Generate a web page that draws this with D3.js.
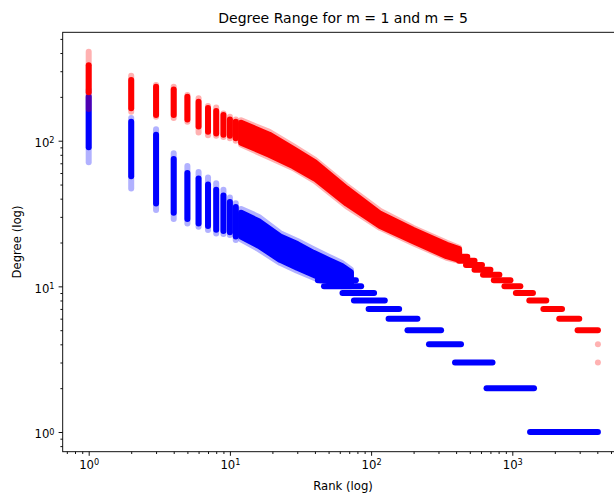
<!DOCTYPE html>
<html><head><meta charset="utf-8">
<script src="https://cdn.jsdelivr.net/npm/d3@7"></script>
<style>
body{margin:0;background:#fff}
svg{display:block}
text{font-family:"DejaVu Sans",sans-serif;fill:#000}
</style>
</head><body>
<svg id="chart" width="614" height="496"></svg>
<script>
// ---------- text ----------
const chartTitle = "Degree Range for m = 1 and m = 5";
const xLabel = "Rank (log)";
const yLabel = "Degree (log)";
const xTickExponents = [0, 1, 2, 3];
const yTickExponents = [0, 1, 2];

// ---------- data ----------
// discrete rank columns: [rank, lowest, denseLow, denseHigh, highest]
const blueColumns = [
  [1, 71, 90, 200, 223],
  [2, 47, 57, 135, 143],
  [3, 33.5, 37, 110, 120],
  [4, 29, 32, 75, 82],
  [5, 27, 29, 60, 67],
  [6, 25.7, 27, 55, 61],
  [7, 24.4, 26, 50, 56],
  [8, 23.1, 24.5, 46, 51],
  [9, 22.9, 24, 42, 46],
  [10, 22.5, 23.5, 38, 40.7],
  [11, 20.8, 22, 35, 37.2]
];
const redColumns = [
  [1, 165, 215, 330, 408],
  [2, 158, 167, 261, 279],
  [3, 146, 150, 235, 241],
  [4, 143, 150, 225, 235],
  [5, 135, 140, 200, 206],
  [6, 114, 125, 185, 196],
  [7, 109, 115, 168, 173],
  [8, 108, 112, 160, 169],
  [9, 106, 110, 150, 154],
  [10, 104, 108, 140, 146],
  [11, 100, 104, 135, 140]
];
// continuous bands: [rank, lowest, denseLow, denseHigh, highest]
const blueBand = [
  [12, 21, 22, 32, 34],
  [16, 18, 19, 28, 30],
  [22.7, 14.5, 15.2, 22, 23.2],
  [30, 12.8, 13.4, 19.5, 20.5],
  [39, 11.5, 12, 17, 18],
  [50, 10.4, 10.8, 15.2, 16],
  [62, 10, 10.2, 13.8, 14.5],
  [72, 10, 10.2, 12.5, 13]
];
const redBand = [
  [12, 94, 97, 133, 138],
  [19, 77, 80, 110, 115],
  [28, 65, 67, 88, 92],
  [40, 53, 55, 71, 74],
  [67, 35.5, 37, 47, 49],
  [116, 25.2, 26, 31.5, 33],
  [199, 19.8, 20.4, 24.4, 25.2],
  [343, 15.7, 16.1, 19.3, 19.9],
  [420, 15, 15.2, 18, 18.4]
];
// integer-degree streaks: [degree, firstRank, lastRank]
const blueSteps = [
  [11, 42, 78],
  [10, 46.4, 85],
  [9, 62.7, 105],
  [8, 75.6, 125],
  [7, 96, 158],
  [6, 133, 213],
  [5, 181, 313],
  [4, 257, 433],
  [3, 393, 724],
  [2, 657, 1425],
  [1, 1336, 4039]
];
const redSteps = [
  [18, 300, 360],
  [17, 330, 420],
  [16, 370, 480],
  [15, 420, 540],
  [14, 470, 610],
  [13, 540, 700],
  [12, 620, 810],
  [11, 740, 970],
  [10, 880, 1140],
  [9, 1060, 1400],
  [8, 1320, 1740],
  [7, 1660, 2250],
  [6, 2150, 2980],
  [5, 2900, 4039]
];
const redOutliers = [[4039, 4], [4039, 3]];

// ---------- layout ----------
const plotLeft = 62.7, plotRight = 623.4, plotTop = 32.3, plotBottom = 451.7;
const dotSize = 6;
const paleOpacity = 0.3;
const blue = "#0000ff", red = "#ff0000";

const svg = d3.select("#chart");
const x = d3.scaleLog().domain([Math.pow(10, -0.1841), Math.pow(10, 3.7868)]).range([plotLeft, plotRight]);
const y = d3.scaleLog().domain([Math.pow(10, -0.1352), Math.pow(10, 2.7443)]).range([plotBottom, plotTop]);

svg.append("defs").append("clipPath").attr("id", "clip")
  .append("rect").attr("x", plotLeft).attr("y", plotTop)
  .attr("width", plotRight - plotLeft).attr("height", plotBottom - plotTop);

const plot = svg.append("g").attr("clip-path", "url(#clip)");

function drawSeries(color, columns, band, steps, outliers) {
  const g = plot.append("g");
  g.selectAll(null).data(columns).enter().append("line")
    .attr("x1", d => x(d[0])).attr("x2", d => x(d[0]))
    .attr("y1", d => y(d[1])).attr("y2", d => y(d[4]))
    .attr("stroke", color).attr("stroke-width", dotSize)
    .attr("stroke-linecap", "round").attr("opacity", paleOpacity);
  g.selectAll(null).data(columns).enter().append("line")
    .attr("x1", d => x(d[0])).attr("x2", d => x(d[0]))
    .attr("y1", d => y(d[2])).attr("y2", d => y(d[3]))
    .attr("stroke", color).attr("stroke-width", dotSize)
    .attr("stroke-linecap", "round");
  const outer = d3.area().x(d => x(d[0])).y0(d => y(d[1])).y1(d => y(d[4]));
  const inner = d3.area().x(d => x(d[0])).y0(d => y(d[2])).y1(d => y(d[3]));
  g.append("path").attr("d", outer(band)).attr("fill", color).attr("stroke", color)
    .attr("stroke-width", dotSize).attr("stroke-linejoin", "round").attr("opacity", paleOpacity);
  g.append("path").attr("d", inner(band)).attr("fill", color).attr("stroke", color)
    .attr("stroke-width", dotSize).attr("stroke-linejoin", "round");
  g.selectAll(null).data(steps).enter().append("line")
    .attr("x1", d => x(d[1])).attr("x2", d => x(d[2]))
    .attr("y1", d => y(d[0])).attr("y2", d => y(d[0]))
    .attr("stroke", color).attr("stroke-width", dotSize)
    .attr("stroke-linecap", "round");
  g.selectAll(null).data(outliers).enter().append("circle")
    .attr("cx", d => x(d[0])).attr("cy", d => y(d[1])).attr("r", dotSize / 2)
    .attr("fill", color).attr("opacity", paleOpacity);
}
drawSeries(blue, blueColumns, blueBand, blueSteps, []);
drawSeries(red, redColumns, redBand, redSteps, redOutliers);

// ---------- axes ----------
const majorLen = 4.1, minorLen = 2.3, fontSize = 11.67;
function minorValues(scale) {
  const [a, b] = scale.domain();
  const out = [];
  for (let e = Math.floor(Math.log10(a)); e <= Math.ceil(Math.log10(b)); e++) {
    for (let m = 2; m <= 9; m++) {
      const v = m * Math.pow(10, e);
      if (v >= a && v <= b) out.push(v);
    }
  }
  return out;
}
function supLabel(sel) {
  sel.text(null);
  sel.append("tspan").text("10");
  sel.append("tspan").attr("dy", "-0.45em").attr("font-size", "0.7em").text(d => String(Math.round(Math.log10(d))));
}
const xMajor = xTickExponents.map(e => Math.pow(10, e));
const yMajor = yTickExponents.map(e => Math.pow(10, e));

const xAxisG = svg.append("g").attr("transform", `translate(0,${plotBottom})`);
xAxisG.append("g").call(d3.axisBottom(x).tickValues(minorValues(x)).tickSize(minorLen).tickSizeOuter(0).tickFormat(""));
const xMaj = xAxisG.append("g").call(d3.axisBottom(x).tickValues(xMajor).tickSize(majorLen).tickSizeOuter(0).tickPadding(4.5));
xMaj.selectAll("text").attr("font-size", fontSize).attr("font-family", "DejaVu Sans").each(function () { supLabel(d3.select(this)); });

const yAxisG = svg.append("g").attr("transform", `translate(${plotLeft},0)`);
yAxisG.append("g").call(d3.axisLeft(y).tickValues(minorValues(y)).tickSize(minorLen).tickSizeOuter(0).tickFormat(""));
const yMaj = yAxisG.append("g").call(d3.axisLeft(y).tickValues(yMajor).tickSize(majorLen).tickSizeOuter(0).tickPadding(4.1));
yMaj.selectAll("text").attr("font-size", fontSize).attr("font-family", "DejaVu Sans").attr("dy", "0.5em").each(function () { supLabel(d3.select(this)); });

svg.selectAll(".domain").remove();
svg.selectAll(".tick line").attr("stroke", "#000").attr("stroke-width", 0.93);

svg.append("rect").attr("x", plotLeft).attr("y", plotTop)
  .attr("width", plotRight - plotLeft).attr("height", plotBottom - plotTop)
  .attr("fill", "none").attr("stroke", "#000").attr("stroke-width", 0.93);

// ---------- titles ----------
svg.append("text").attr("x", (plotLeft + plotRight) / 2).attr("y", 23)
  .attr("text-anchor", "middle").attr("font-size", 14).text(chartTitle);
svg.append("text").attr("x", (plotLeft + plotRight) / 2).attr("y", 490)
  .attr("text-anchor", "middle").attr("font-size", fontSize).text(xLabel);
svg.append("text").attr("transform", `translate(21,${(plotTop + plotBottom) / 2}) rotate(-90)`)
  .attr("text-anchor", "middle").attr("font-size", fontSize).text(yLabel);
</script>
</body></html>
